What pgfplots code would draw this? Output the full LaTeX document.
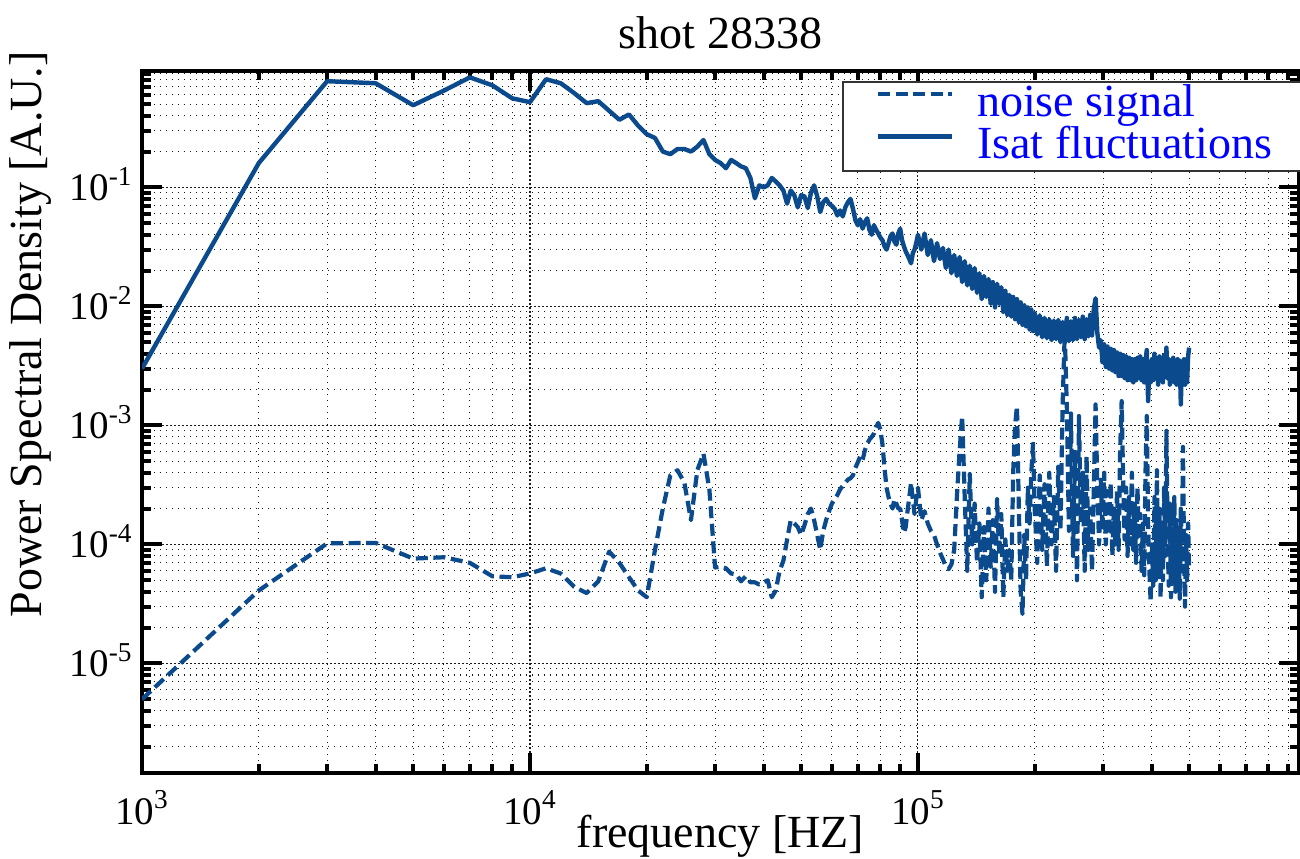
\documentclass[border=0pt]{standalone}
\usepackage{fontspec}
\setmainfont{Liberation Serif}
\usepackage{pgfplots}
\usepackage{pgfplotstable}
\pgfplotsset{compat=1.18}
\definecolor{lineblue}{RGB}{11,74,140}

\pgfplotstableread{
f p
1000 5.0e-6
2000 4.1e-5
3000 1.02e-4
4000 1.03e-4
5000 7.6e-5
6000 7.8e-5
7000 7.0e-5
8000 5.4e-5
9000 5.3e-5
10000 5.7e-5
11000 6.3e-5
12000 5.7e-5
13000 4.4e-5
14000 3.9e-5
15000 4.9e-5
16000 8.7e-5
17000 7.0e-5
18000 5.3e-5
19000 4.1e-5
20000 3.6e-5
21000 9.0e-5
22000 2.0e-4
23000 3.8e-4
24000 4.2e-4
25000 3.3e-4
26000 1.6e-4
27000 4.2e-4
28000 5.8e-4
29000 2.9e-4
30000 6.4e-5
31000 6.5e-5
32000 6.3e-5
33000 5.7e-5
34000 5.6e-5
35000 4.9e-5
36000 5.4e-5
37000 4.8e-5
38000 4.8e-5
39000 4.6e-5
40000 4.8e-5
41000 5.0e-5
42000 3.6e-5
43000 4.1e-5
44000 6.0e-5
45000 7.3e-5
46000 1.1e-4
47000 1.6e-4
48000 1.5e-4
49000 1.4e-4
50000 1.2e-4
51000 1.45e-4
52000 1.8e-4
53000 2.0e-4
54000 1.6e-4
55000 1.2e-4
56000 9.0e-5
57000 1.3e-4
58000 1.6e-4
59000 1.9e-4
60000 2.2e-4
61000 2.4e-4
62000 2.6e-4
63000 2.9e-4
64000 3.1e-4
65000 3.3e-4
66000 3.5e-4
67000 3.6e-4
68000 3.8e-4
69000 4.4e-4
70000 4.9e-4
71000 5.5e-4
72000 5.1e-4
73000 6.2e-4
74000 7.0e-4
75000 7.6e-4
76000 8.0e-4
77000 8.5e-4
78000 9.6e-4
79000 1.05e-3
80000 9.2e-4
81000 7.0e-4
82000 4.4e-4
83000 3.0e-4
84000 2.5e-4
85000 2.2e-4
86000 2.0e-4
87000 2.4e-4
88000 2.2e-4
89000 2.0e-4
90000 2.0e-4
91000 1.6e-4
92000 1.25e-4
93000 1.4e-4
94000 1.9e-4
95000 2.5e-4
96000 3.3e-4
97000 2.4e-4
98000 1.8e-4
99000 2.4e-4
100000 3.0e-4
102000 1.6e-4
104000 1.9e-4
106000 1.5e-4
108000 1.3e-4
110000 1.2e-4
112000 1.0e-4
114000 8.5e-5
116000 7.5e-5
118000 6.5e-5
120000 6.2e-5
122000 6.8e-5
124000 9.0e-5
126000 2.5e-4
128000 6.0e-4
130000 1.2e-3
132000 2.5e-4
134000 6.0e-5
136000 3.9e-4
138000 1.0e-4
140000 2.2e-4
142000 7.0e-5
144000 1.5e-4
146000 3.6e-5
148000 1.4e-4
150000 5.0e-5
152000 2.0e-4
154000 6.5e-5
156000 1.6e-4
158000 4.0e-5
160000 2.4e-4
162000 8.0e-5
164000 1.8e-4
166000 3.6e-5
168000 1.1e-4
170000 6.0e-5
172000 9.0e-5
174000 5.0e-5
176000 4.0e-4
178000 1.0e-3
180000 1.45e-3
182000 2.0e-4
184000 4.0e-5
186000 2.6e-5
188000 1.2e-4
190000 5.0e-5
192000 3.0e-4
194000 1.5e-4
196000 4.0e-4
198000 7.0e-4
200000 2.0e-4
203000 7.0e-5
206000 3.8e-4
209000 9.0e-5
212000 3.2e-4
215000 6.5e-5
218000 4.0e-4
221000 1.0e-4
224000 2.5e-4
227000 6.0e-5
230000 4.5e-4
233000 1.3e-4
236000 1.5e-3
239000 6.0e-3
242000 1.4e-3
245000 1.3e-4
248000 1.26e-3
251000 8.0e-5
254000 6.0e-4
257000 5.0e-5
260000 1.2e-3
263000 1.5e-4
266000 4.0e-4
269000 6.0e-5
272000 5.5e-4
275000 9.0e-5
278000 2.0e-4
281000 6.0e-5
284000 3.0e-4
287000 1.5e-3
290000 3.0e-4
293000 1.0e-4
296000 3.5e-4
299000 1.3e-4
302000 4.0e-4
305000 1.0e-4
308000 2.8e-4
311000 1.2e-4
314000 3.3e-4
317000 8.0e-5
320000 2.0e-4
323000 1.0e-4
326000 2.8e-4
329000 9.0e-5
332000 6.0e-4
335000 1.6e-3
338000 3.5e-4
341000 1.1e-4
344000 3.0e-4
347000 8.0e-5
350000 2.5e-4
353000 1.0e-4
356000 4.0e-4
359000 9.0e-5
362000 2.2e-4
365000 7.0e-5
368000 3.0e-4
371000 1.1e-4
374000 1.8e-4
377000 6.0e-5
380000 1.5e-4
383000 5.5e-5
386000 4.0e-4
389000 1.2e-3
392000 1.5e-4
395000 6.0e-5
398000 3.3e-5
401000 1.0e-4
404000 4.5e-5
407000 2.5e-4
410000 5.0e-5
413000 4.2e-4
416000 6.0e-5
419000 2.0e-4
422000 3.5e-5
425000 1.5e-4
428000 5.0e-5
431000 3.0e-4
434000 8.0e-5
437000 9.0e-4
440000 1.2e-4
443000 4.5e-5
446000 2.2e-4
449000 3.6e-5
452000 1.3e-4
455000 5.0e-5
458000 2.5e-4
461000 4.0e-5
464000 1.6e-4
467000 6.0e-5
470000 1.0e-4
473000 3.5e-5
476000 2.0e-4
479000 7.0e-5
482000 6.6e-4
485000 9.0e-5
488000 3.0e-5
491000 1.2e-4
494000 5.0e-5
497000 1.5e-4
500000 6.0e-5
}\noisedata

\pgfplotstableread{
f p
1000 3.0e-3
2000 0.16
3000 0.78
4000 0.75
5000 0.49
6000 0.65
7000 0.84
8000 0.72
9000 0.56
10000 0.52
11000 0.81
12000 0.75
13000 0.62
14000 0.51
15000 0.53
16000 0.44
17000 0.37
18000 0.41
19000 0.33
20000 0.28
21000 0.26
22000 0.20
23000 0.19
24000 0.21
25000 0.21
26000 0.20
27000 0.22
28000 0.25
29000 0.19
30000 0.17
31000 0.16
32000 0.145
33000 0.17
34000 0.16
35000 0.15
36000 0.145
37000 0.12
38000 0.081
39000 0.104
40000 0.10
41000 0.104
42000 0.12
43000 0.112
44000 0.104
45000 0.094
46000 0.073
47000 0.094
48000 0.086
49000 0.068
50000 0.086
51000 0.084
52000 0.067
53000 0.09
54000 0.104
55000 0.084
56000 0.062
57000 0.075
58000 0.08
59000 0.073
60000 0.07
61000 0.066
62000 0.058
63000 0.064
64000 0.057
65000 0.068
66000 0.075
67000 0.08
68000 0.066
69000 0.053
70000 0.048
71000 0.054
72000 0.045
73000 0.051
74000 0.055
75000 0.044
76000 0.040
77000 0.048
78000 0.044
79000 0.041
80000 0.038
81000 0.036
82000 0.032
83000 0.030
84000 0.034
85000 0.039
86000 0.041
87000 0.035
88000 0.033
89000 0.041
90000 0.045
91000 0.036
92000 0.032
93000 0.029
94000 0.027
95000 0.025
96000 0.023
97000 0.028
98000 0.030
99000 0.034
100000 0.040
102000 0.030
104000 0.041
106000 0.027
108000 0.036
110000 0.024
112000 0.034
114000 0.025
116000 0.031
118000 0.021
120000 0.030
122000 0.019
124000 0.027
126000 0.018
128000 0.026
130000 0.016
132000 0.024
134000 0.015
136000 0.022
138000 0.014
140000 0.021
142000 0.013
144000 0.019
146000 0.0115
148000 0.018
150000 0.012
152000 0.017
154000 0.0105
156000 0.016
158000 0.0098
160000 0.0155
162000 0.0105
164000 0.0145
166000 0.0090
168000 0.0135
170000 0.0085
172000 0.0125
174000 0.0082
176000 0.0120
178000 0.0078
180000 0.0115
182000 0.0074
184000 0.0108
186000 0.0070
188000 0.0102
190000 0.0068
192000 0.0098
194000 0.0064
196000 0.0094
198000 0.0062
200000 0.0088
203000 0.0058
206000 0.0084
209000 0.0055
212000 0.0080
215000 0.0054
218000 0.0078
221000 0.0052
224000 0.0076
227000 0.0053
230000 0.0077
233000 0.0050
236000 0.0074
239000 0.0052
242000 0.0080
245000 0.0051
248000 0.0075
251000 0.0052
254000 0.0080
257000 0.0053
260000 0.0077
263000 0.0055
266000 0.0082
269000 0.0053
272000 0.0078
275000 0.0056
278000 0.0085
281000 0.0057
284000 0.0095
287000 0.0117
290000 0.0060
293000 0.0045
296000 0.0052
299000 0.0034
302000 0.0048
305000 0.0031
308000 0.0046
311000 0.0030
314000 0.0044
317000 0.0029
320000 0.0043
323000 0.0028
326000 0.0041
329000 0.0026
332000 0.0040
335000 0.0026
338000 0.0039
341000 0.0025
344000 0.0038
347000 0.0024
350000 0.0037
353000 0.0024
356000 0.0036
359000 0.0023
362000 0.0036
365000 0.0024
368000 0.0037
371000 0.0025
374000 0.0038
377000 0.0024
380000 0.0036
383000 0.0023
386000 0.0035
389000 0.0043
392000 0.0016
395000 0.0033
398000 0.0023
401000 0.0036
404000 0.0024
407000 0.0040
410000 0.0025
413000 0.0036
416000 0.0022
419000 0.0038
422000 0.0025
425000 0.0036
428000 0.0023
431000 0.0039
434000 0.0026
437000 0.0045
440000 0.0025
443000 0.0036
446000 0.0022
449000 0.0035
452000 0.0024
455000 0.0037
458000 0.0023
461000 0.0034
464000 0.0022
467000 0.0036
470000 0.0024
473000 0.0035
476000 0.0015
479000 0.0033
482000 0.0022
485000 0.0036
488000 0.0022
491000 0.0034
494000 0.0023
497000 0.0038
500000 0.0045
}\isatdata

\begin{document}
\begin{tikzpicture}
\begin{axis}[
  at={(0pt,0pt)}, anchor=south west,
  scale only axis,
  width=578.5pt, height=351pt,
  xmode=log, ymode=log,
  xmin=1000, xmax=960000,
  ymin=1.2e-6, ymax=0.95,
  xtick={1000,10000,100000},
  xticklabels={10\textsuperscript{3},10\textsuperscript{4},10\textsuperscript{5}},
  minor xtick={2000,3000,4000,5000,6000,7000,8000,9000,20000,30000,40000,50000,60000,70000,80000,90000,200000,300000,400000,500000,600000,700000,800000,900000},
  ytick={1e-5,1e-4,1e-3,1e-2,1e-1},
  yticklabels={10\textsuperscript{-5},10\textsuperscript{-4},10\textsuperscript{-3},10\textsuperscript{-2},10\textsuperscript{-1}},
  minor ytick={2e-6,3e-6,4e-6,5e-6,6e-6,7e-6,8e-6,9e-6,2e-5,3e-5,4e-5,5e-5,6e-5,7e-5,8e-5,9e-5,2e-4,3e-4,4e-4,5e-4,6e-4,7e-4,8e-4,9e-4,2e-3,3e-3,4e-3,5e-3,6e-3,7e-3,8e-3,9e-3,2e-2,3e-2,4e-2,5e-2,6e-2,7e-2,8e-2,9e-2,0.2,0.3,0.4,0.5,0.6,0.7,0.8,0.9},
  tick align=inside,
  xtick pos=both, ytick pos=both,
  major tick length=10pt,
  minor tick length=4.5pt,
  tick style={black, line width=2pt},
  axis line style={black, line width=2pt},
  grid=both,
  major grid style={black!90, line width=0.55pt, dash pattern=on 0.8pt off 1.2pt},
  minor grid style={black!90, line width=0.55pt, dash pattern=on 0.7pt off 2.3pt},
  xticklabel style={font=\fontsize{19.5}{19.5}\selectfont, anchor=base, inner sep=0pt, yshift=-25.5pt},
  yticklabel style={font=\fontsize{19.5}{19.5}\selectfont, anchor=base east, inner sep=0pt, xshift=-4.5pt, yshift=-6.4pt},
  title={shot 28338},
  title style={font=\fontsize{23}{23}\selectfont, at={(axis description cs:0.5,1)}, anchor=base, yshift=5.5pt},
  xlabel={frequency [HZ]},
  xlabel style={font=\fontsize{23}{23}\selectfont, at={(axis description cs:0.5,0)}, anchor=base, inner sep=0pt, yshift=-37.3pt},
  ylabel={Power Spectral Density [A.U.]},
  ylabel style={font=\fontsize{23}{23}\selectfont, at={(axis description cs:-0.0968,0.625)}, anchor=center},
  legend cell align=left,
  legend image code/.code={\draw[#1] (0pt,5.5pt) -- (37pt,5.5pt);},
  legend style={at={(axis description cs:1,1)}, anchor=north east, xshift=3.5pt, yshift=-5pt,
    font=\fontsize{23}{23}\selectfont, text=blue, draw=black!80, line width=0.8pt,
    inner xsep=16.5pt, inner ysep=3.5pt, row sep=4.5pt,
    nodes={inner sep=0pt, text height=14pt, text depth=2.5pt},
    /tikz/every odd column/.append style={column sep=11.5pt}},
]
\addplot[lineblue, line width=2.1pt, dash pattern=on 6pt off 2.8pt, line join=round] table[x=f, y=p] {\noisedata};
\addlegendentry{noise signal}
\addplot[lineblue, line width=2.2pt, line join=round] table[x=f, y=p] {\isatdata};
\addlegendentry{Isat fluctuations}
\end{axis}
\pgfresetboundingbox
\useasboundingbox (-71pt,-42.5pt) rectangle (579pt,386.5pt);
\end{tikzpicture}
\end{document}
